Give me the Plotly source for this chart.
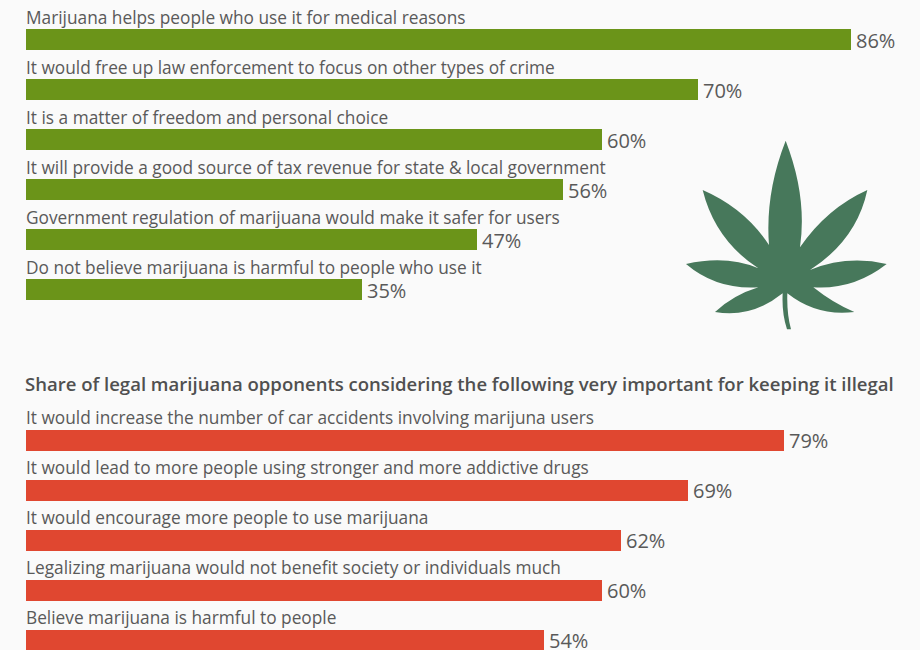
import plotly.graph_objects as go

support_labels = [
    "Marijuana helps people who use it for medical reasons",
    "It would free up law enforcement to focus on other types of crime",
    "It is a matter of freedom and personal choice",
    "It will provide a good source of tax revenue for state &amp; local government",
    "Government regulation of marijuana would make it safer for users",
    "Do not believe marijuana is harmful to people who use it",
]
support_values = [86, 70, 60, 56, 47, 35]
oppose_title = "Share of legal marijuana opponents considering the following very important for keeping it illegal"
oppose_labels = [
    "It would increase the number of car accidents involving marijuna users",
    "It would lead to more people using stronger and more addictive drugs",
    "It would encourage more people to use marijuana",
    "Legalizing marijuana would not benefit society or individuals much",
    "Believe marijuana is harmful to people",
]
oppose_values = [79, 69, 62, 60, 54]

W, H = 920, 650
FONT = "Open Sans"
TXT = "#595959"
X0, PX = 26, 9.593
ROW, Y0 = 50.05, 39.7
BAR = 21 / ROW

rows_a = list(range(len(support_values)))
rows_b = [8 + i for i in range(len(oppose_values))]

fig = go.Figure()
anns = []
for rows, vals, labs, col in [(rows_a, support_values, support_labels, "#6B9419"),
                              (rows_b, oppose_values, oppose_labels, "#E04730")]:
    fig.add_trace(go.Bar(
        y=rows, x=vals, orientation="h", width=BAR, marker=dict(color=col, line=dict(width=0)),
        showlegend=False, hoverinfo="skip",
    ))
    for r, v, t in zip(rows, vals, labs):
        anns.append(dict(x=0, y=r, xref="x", yref="y", text=t, showarrow=False, xanchor="left",
                         yanchor="middle", yshift=22.5, xshift=-2,
                         font=dict(family=FONT, size=17.3, color=TXT)))
        anns.append(dict(x=v, y=r, xref="x", yref="y", text=f"{v}%", showarrow=False, xanchor="left",
                         yanchor="middle", yshift=-0.5, xshift=3,
                         font=dict(family=FONT, size=20, color=TXT)))
anns.append(dict(x=0, y=7, xref="x", yref="y", text=oppose_title, showarrow=False, xanchor="left",
                 yanchor="middle", yshift=7, xshift=-3,
                 font=dict(family=FONT, size=18.55, color="#505050", weight=600)))

# decorative leaf outline: zoom-crop pixels of the picture, converted to paper fractions
def P(zx, zy):
    return f"{(670 + zx / 3) / W:.5f},{1 - (130 + zy / 3) / H:.5f}"

leaf = [
    ("M", (347, 32)),
    ("Q", (412, 200), (390, 352)),
    ("Q", (470, 235), (592, 180)),
    ("Q", (560, 330), (420, 420)),
    ("Q", (530, 375), (650, 402)),
    ("Q", (550, 480), (430, 472)),
    ("Q", (490, 520), (553, 546)),
    ("Q", (440, 560), (352, 490)),
    ("Q", (350, 550), (363, 598)),
    ("L", (351, 598)),
    ("Q", (335, 550), (338, 490)),
    ("Q", (245, 565), (135, 546)),
    ("Q", (190, 495), (265, 472)),
    ("Q", (140, 480), (48, 402)),
    ("Q", (170, 375), (265, 415)),
    ("Q", (135, 330), (98, 180)),
    ("Q", (225, 235), (297, 345)),
    ("Q", (285, 190), (347, 32)),
]
path = " ".join(c[0] + " ".join(P(*p) for p in c[1:]) for c in leaf) + " Z"

fig.update_layout(
    width=W, height=H, margin=dict(l=0, r=0, t=0, b=0), autosize=False,
    paper_bgcolor="#FAFAFA", plot_bgcolor="#FAFAFA", annotations=anns, bargap=0,
    xaxis=dict(range=[-X0 / PX, (W - X0) / PX], visible=False, fixedrange=True),
    yaxis=dict(range=[(H - Y0) / ROW, -Y0 / ROW], visible=False, fixedrange=True),
    shapes=[dict(type="path", xref="paper", yref="paper", path=path,
                 fillcolor="#47785B", line=dict(width=0))],
)
fig.write_html("out.html", config={"displayModeBar": False},
               post_script="document.body.style.margin='0';document.body.style.background='#FAFAFA';window.dispatchEvent(new Event('resize'));")
